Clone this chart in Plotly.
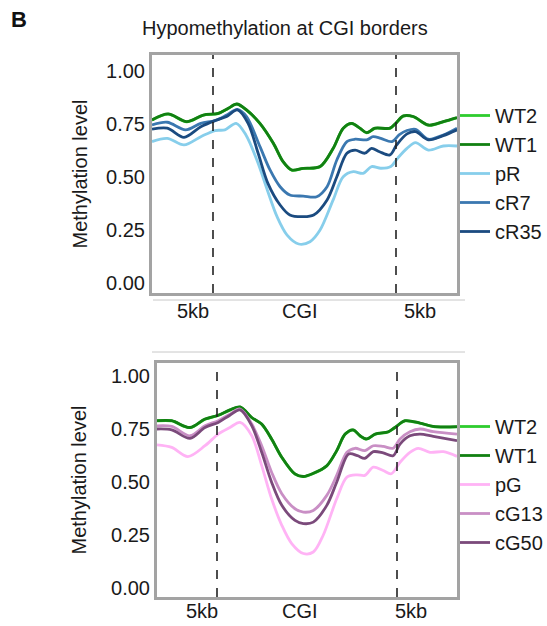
import plotly.graph_objects as go

# Positions along the meta-region (0-100): 5kb upstream | CGI | 5kb downstream
# ---------------- top panel: R lines ----------------
top_wt1_x = [0, 5.3, 11.4, 16.8, 21.7, 25, 27.8, 31, 35.4, 39.8, 43, 45.8, 49.6, 55.1, 59.4, 62.7, 65.5, 68.2, 70.4, 73.1, 78, 79.7, 82.4, 85.7, 90.6, 95.5, 100]
top_wt1_y = [0.769, 0.797, 0.761, 0.792, 0.800, 0.824, 0.844, 0.816, 0.753, 0.659, 0.572, 0.533, 0.541, 0.549, 0.635, 0.730, 0.753, 0.730, 0.709, 0.730, 0.730, 0.750, 0.788, 0.785, 0.745, 0.761, 0.780]
top_wt2_x = [0, 5.3, 11.4, 16.8, 21.7, 25, 27.8, 31, 35.4, 39.8, 43, 45.8, 49.6, 55.1, 59.4, 62.7, 65.5, 68.2, 70.4, 73.1, 78, 79.7, 82.4, 85.7, 90.6, 95.5, 100]
top_wt2_y = [0.768, 0.796, 0.760, 0.791, 0.799, 0.823, 0.843, 0.815, 0.752, 0.658, 0.571, 0.532, 0.540, 0.548, 0.634, 0.729, 0.752, 0.729, 0.708, 0.729, 0.729, 0.749, 0.787, 0.784, 0.744, 0.760, 0.779]
top_pr_x = [0, 5, 10.5, 16, 20.7, 23.9, 27.6, 30.8, 34.6, 37.8, 41, 44.3, 48.1, 51.8, 55.1, 59.4, 62.7, 66, 69.2, 72, 75, 78.3, 80.5, 83.6, 86.4, 90.6, 95.5, 100]
top_pr_y = [0.667, 0.682, 0.651, 0.690, 0.719, 0.722, 0.753, 0.698, 0.572, 0.439, 0.313, 0.226, 0.184, 0.195, 0.250, 0.392, 0.501, 0.525, 0.517, 0.549, 0.541, 0.549, 0.588, 0.635, 0.662, 0.627, 0.646, 0.646]
top_cr7_x = [0, 5, 11, 16, 20.7, 24.5, 28, 31, 35.4, 38.7, 42, 45.2, 49.6, 54, 57.4, 60.6, 63.9, 66.6, 70.4, 72.5, 75, 78.7, 81, 83.6, 86.4, 90.6, 95.5, 100]
top_cr7_y = [0.745, 0.758, 0.722, 0.753, 0.766, 0.792, 0.819, 0.785, 0.643, 0.533, 0.454, 0.415, 0.410, 0.407, 0.454, 0.580, 0.667, 0.678, 0.675, 0.690, 0.682, 0.667, 0.698, 0.719, 0.725, 0.678, 0.698, 0.730]
top_cr35_x = [0, 5, 10.5, 16, 20.7, 24.5, 28, 31.5, 34.8, 38, 42, 45.2, 49.6, 53, 57.4, 60.6, 63.9, 66.6, 69.8, 72, 74.6, 78, 80.2, 83.6, 86.4, 90.6, 95.5, 100]
top_cr35_y = [0.725, 0.730, 0.687, 0.737, 0.766, 0.785, 0.816, 0.753, 0.612, 0.470, 0.368, 0.321, 0.313, 0.321, 0.392, 0.501, 0.612, 0.627, 0.612, 0.635, 0.619, 0.604, 0.651, 0.703, 0.714, 0.675, 0.695, 0.722]

# ---------------- bottom panel: G lines ----------------
bot_wt1_x = [0, 4.9, 11, 16, 20.4, 24.3, 27.7, 31.6, 34.9, 38.2, 41.6, 46, 48.8, 52.1, 56.6, 59.9, 62.7, 65.4, 67.7, 69.9, 72.7, 77.1, 79.3, 82.7, 87.7, 92.1, 100]
bot_wt1_y = [0.789, 0.789, 0.757, 0.797, 0.815, 0.840, 0.854, 0.804, 0.773, 0.703, 0.617, 0.538, 0.526, 0.541, 0.577, 0.648, 0.726, 0.746, 0.718, 0.703, 0.726, 0.737, 0.757, 0.789, 0.778, 0.762, 0.761]
bot_wt2_x = [0, 4.9, 11, 16, 20.4, 24.3, 27.7, 31.6, 34.9, 38.2, 41.6, 46, 48.8, 52.1, 56.6, 59.9, 62.7, 65.4, 67.7, 69.9, 72.7, 77.1, 79.3, 82.7, 87.7, 92.1, 100]
bot_wt2_y = [0.788, 0.788, 0.756, 0.796, 0.814, 0.839, 0.853, 0.803, 0.772, 0.702, 0.616, 0.537, 0.525, 0.540, 0.576, 0.647, 0.725, 0.745, 0.717, 0.702, 0.725, 0.736, 0.756, 0.788, 0.777, 0.761, 0.760]
bot_pg_x = [0, 4.9, 10.3, 16, 20.4, 24.3, 27.7, 31.6, 34.9, 38.2, 41.6, 44.9, 48.8, 52.1, 55.4, 59.9, 63.3, 66.6, 69.3, 72.1, 75.4, 78.1, 81, 84.3, 87.1, 91, 95.5, 100]
bot_pg_y = [0.675, 0.663, 0.620, 0.671, 0.726, 0.757, 0.781, 0.718, 0.577, 0.421, 0.296, 0.210, 0.163, 0.170, 0.249, 0.421, 0.523, 0.534, 0.531, 0.570, 0.554, 0.539, 0.593, 0.640, 0.659, 0.640, 0.643, 0.621]
bot_cg13_x = [0, 4.9, 11, 16, 20.4, 24.3, 27.7, 31.6, 34.9, 38.2, 41.6, 46, 48.8, 52.1, 56.6, 59.9, 63.3, 66, 69.3, 72.1, 75.4, 78.7, 81, 84.3, 87.7, 92.1, 100]
bot_cg13_y = [0.765, 0.762, 0.718, 0.765, 0.789, 0.820, 0.844, 0.773, 0.671, 0.546, 0.445, 0.374, 0.358, 0.366, 0.437, 0.531, 0.640, 0.659, 0.648, 0.671, 0.668, 0.659, 0.703, 0.737, 0.750, 0.737, 0.726]
bot_cg50_x = [0, 4.9, 11, 16, 20.4, 24.3, 27.7, 31.6, 34.9, 38.2, 41.6, 46, 48.8, 52.1, 56.6, 59.9, 63.9, 66.8, 69.3, 72.1, 75.4, 78.7, 81, 84.3, 87.7, 92.1, 100]
bot_cg50_y = [0.750, 0.746, 0.706, 0.757, 0.781, 0.815, 0.840, 0.765, 0.640, 0.499, 0.390, 0.319, 0.304, 0.311, 0.390, 0.499, 0.632, 0.624, 0.612, 0.643, 0.637, 0.624, 0.679, 0.718, 0.726, 0.715, 0.695]

# CGI borders and region labels
border_pos = [20, 80]
top_label_pos = [13.4, 48.5, 87.9]
bot_label_pos = [15, 47.7, 84.7]
region_labels = ["5kb", "CGI", "5kb"]
y_ticks = [0, 0.25, 0.5, 0.75, 1.0]

FONT = "Liberation Sans, Arial, sans-serif"
FS = 20
W, H = 547, 626

top_series = [
    ("WT2", top_wt2_x, top_wt2_y, "#2ecc2e"),
    ("WT1", top_wt1_x, top_wt1_y, "#128012"),
    ("pR", top_pr_x, top_pr_y, "#87ceeb"),
    ("cR7", top_cr7_x, top_cr7_y, "#3b78b0"),
    ("cR35", top_cr35_x, top_cr35_y, "#1b4b80"),
]
bot_series = [
    ("WT2", bot_wt2_x, bot_wt2_y, "#2ecc2e"),
    ("WT1", bot_wt1_x, bot_wt1_y, "#128012"),
    ("pG", bot_pg_x, bot_pg_y, "#ffb3f5"),
    ("cG13", bot_cg13_x, bot_cg13_y, "#c98fc5"),
    ("cG50", bot_cg50_x, bot_cg50_y, "#7b4a7b"),
]

fig = go.Figure()
for i, (name, xs, ys, col) in enumerate(top_series):
    fig.add_trace(go.Scatter(
        x=xs, y=ys, name=name, mode="lines",
        line=dict(color=col, width=2.8, shape="spline", smoothing=0.9),
        xaxis="x", yaxis="y", legend="legend", legendgroup=f"t{i}",
    ))
for i, (name, xs, ys, col) in enumerate(bot_series):
    fig.add_trace(go.Scatter(
        x=xs, y=ys, name=name, mode="lines",
        line=dict(color=col, width=2.8, shape="spline", smoothing=0.9),
        xaxis="x2", yaxis="y2", legend="legend2", legendgroup=f"b{i}",
    ))

def px_x(p):
    return p / W

def px_y(p):
    return 1 - p / H

axis_frame = dict(showline=True, mirror=True, linecolor="#a3a3a3", linewidth=3,
                  showgrid=False, zeroline=False)

def y_axis(standoff):
    return dict(
        **axis_frame, tickvals=y_ticks, tickformat=".2f", ticks="",
        tickfont=dict(family=FONT, size=FS, color="#1a1a1a"),
        title=dict(text="Methylation level", font=dict(family=FONT, size=FS, color="#1a1a1a"),
                   standoff=standoff),
    )

xaxis_common = dict(**axis_frame, range=[0, 100], showticklabels=False, ticks="")

legend_common = dict(
    font=dict(family=FONT, size=FS, color="#1a1a1a"),
    bgcolor="rgba(0,0,0,0)", borderwidth=0, tracegroupgap=1,
    xanchor="left", yanchor="top", traceorder="normal",
)

fig.update_layout(
    width=W, height=H,
    margin=dict(l=0, r=0, t=0, b=0, autoexpand=False),
    paper_bgcolor="white", plot_bgcolor="white",
    showlegend=True,
    xaxis=dict(**xaxis_common, domain=[px_x(152), px_x(457)], anchor="y"),
    yaxis=dict(**y_axis(14), domain=[px_y(293), px_y(55)], range=[-0.047, 1.075], anchor="x"),
    xaxis2=dict(**xaxis_common, domain=[px_x(157), px_x(457)], anchor="y2"),
    yaxis2=dict(**y_axis(20), domain=[px_y(597), px_y(363)], range=[-0.042, 1.061], anchor="x2"),
    legend=dict(**legend_common, x=px_x(455), y=px_y(96)),
    legend2=dict(**legend_common, x=px_x(455), y=px_y(407)),
)

shapes = []
for xr, yr in (("x", "y"), ("x2", "y2")):
    for b in border_pos:
        shapes.append(dict(type="line", xref=xr, yref=f"{yr} domain", x0=b, x1=b, y0=0, y1=1,
                           line=dict(color="#222222", width=1.6, dash="dash")))
# thin separators beneath each panel's region labels
shapes.append(dict(type="line", xref="paper", yref="paper", x0=px_x(153), x1=px_x(465),
                   y0=px_y(300), y1=px_y(300), line=dict(color="#c8c8c8", width=1)))
shapes.append(dict(type="line", xref="paper", yref="paper", x0=px_x(152), x1=px_x(465),
                   y0=px_y(352), y1=px_y(352), line=dict(color="#c8c8c8", width=1)))
fig.update_layout(shapes=shapes)

annotations = []
for pos, lab in zip(top_label_pos, region_labels):
    annotations.append(dict(x=pos, xref="x", y=px_y(311), yref="paper", text=lab, showarrow=False,
                            font=dict(family=FONT, size=FS, color="#1a1a1a"), xanchor="center", yanchor="middle"))
for pos, lab in zip(bot_label_pos, region_labels):
    annotations.append(dict(x=pos, xref="x2", y=px_y(611), yref="paper", text=lab, showarrow=False,
                            font=dict(family=FONT, size=FS, color="#1a1a1a"), xanchor="center", yanchor="middle"))
annotations.append(dict(x=px_x(285), y=px_y(28), xref="paper", yref="paper", showarrow=False,
                        text="Hypomethylation at CGI borders",
                        font=dict(family=FONT, size=20, color="#1a1a1a"), xanchor="center", yanchor="middle"))
annotations.append(dict(x=px_x(19), y=px_y(20), xref="paper", yref="paper", showarrow=False,
                        text="<b>B</b>", font=dict(family=FONT, size=22, color="#111111"),
                        xanchor="center", yanchor="middle"))
fig.update_layout(annotations=annotations)

fig.write_html("out.html")
